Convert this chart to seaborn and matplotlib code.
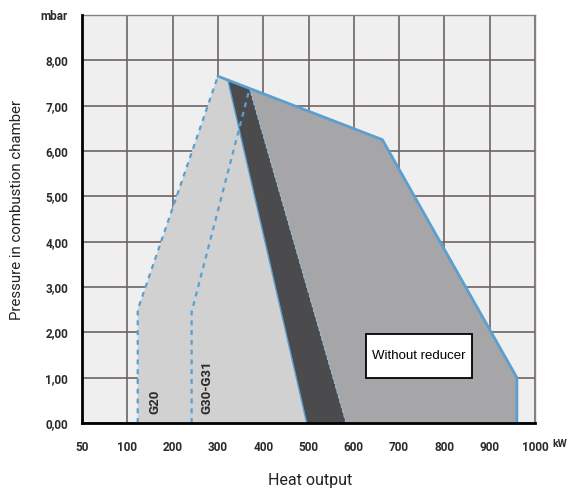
import numpy as np
import matplotlib
matplotlib.use("Agg")
import matplotlib.pyplot as plt
from matplotlib import font_manager
from matplotlib.patches import Rectangle
import seaborn as sns

# ---- data (kW, mbar) ----
x_ticks = [50, 100, 200, 300, 400, 500, 600, 700, 800, 900, 1000]
x_tick_labels = ["50", "100", "200", "300", "400", "500", "600", "700", "800", "900", "1000"]
y_ticks = [0, 1, 2, 3, 4, 5, 6, 7, 8, 9]
y_tick_labels = ["0,00", "1,00", "2,00", "3,00", "4,00", "5,00", "6,00", "7,00", "8,00", "mbar"]

# light region (G20 start to left edge of transition band)
light_kw = [123, 123, 300, 322, 496]
light_mbar = [0, 2.5, 7.65, 7.56, 0]
# dark transition band
dark_kw = [322, 370, 583, 496]
dark_mbar = [7.56, 7.38, 0, 0]
# "Without reducer" region
wr_kw = [370, 663, 960, 960, 583]
wr_mbar = [7.38, 6.25, 1.0, 0, 0]
# outer envelope
env_kw = [300, 663, 960, 960]
env_mbar = [7.65, 6.25, 1.0, 0]
# gas start curves
g20_kw = [123, 123, 300]
g20_mbar = [0, 2.5, 7.65]
g30_kw = [242, 242, 370]
g30_mbar = [0, 2.45, 7.38]


def pick(*names):
    have = {f.name for f in font_manager.fontManager.ttflist}
    for n in names:
        if n in have:
            return n
    return "DejaVu Sans"


sns.set_theme(style="white")
label_font = pick("Roboto", "Liberation Sans")
tick_font = pick("Roboto", "Liberation Sans")
sans = pick("Liberation Sans", "DejaVu Sans")
plt.rcParams["font.family"] = [sans, "DejaVu Sans"]


def fwd(v):
    v = np.asarray(v, dtype=float)
    return np.where(v <= 100, (v - 50) / 50.0, 1 + (v - 100) / 100.0)


def inv(p):
    p = np.asarray(p, dtype=float)
    return np.where(p <= 1, 50 + p * 50.0, 100 + (p - 1) * 100.0)


fig = plt.figure(figsize=(5.71, 4.91), dpi=100)
ax = fig.add_axes([82 / 571, 68 / 491, (535 - 82) / 571, (423 - 15) / 491])
ax.set_xscale("function", functions=(fwd, inv))
ax.set_xlim(50, 1000)
ax.set_ylim(0, 9)
ax.set_facecolor("#efefef")

grid_c = "#6e6464"
ax.set_xticks(x_ticks)
ax.set_yticks(y_ticks)
ax.grid(True, color=grid_c, linewidth=1.2, zorder=0)
ax.set_axisbelow(True)

ax.fill(light_kw, light_mbar, color="#d1d1d1", zorder=2, lw=0)
ax.fill(dark_kw, dark_mbar, color="#4b4b4d", zorder=2, lw=0)
ax.fill(wr_kw, wr_mbar, color="#a6a6a8", zorder=2, lw=0)

blue = "#5a9fcf"
# edges of the transition band
ax.plot([light_kw[3], light_kw[4]], [light_mbar[3], light_mbar[4]], color=blue, lw=1.0, zorder=3)
ax.plot([dark_kw[1], dark_kw[2]], [dark_mbar[1], dark_mbar[2]], color="#8cc0e0", lw=0.9,
        ls=(0, (2, 2)), zorder=3)
sns.lineplot(x=env_kw, y=env_mbar, sort=False, estimator=None, color=blue, lw=2.0, ax=ax, zorder=4)
sns.lineplot(x=g20_kw, y=g20_mbar, sort=False, estimator=None, color=blue, lw=1.6,
             ax=ax, zorder=4).lines[-1].set_linestyle((0, (2.2, 2.2)))
sns.lineplot(x=g30_kw, y=g30_mbar, sort=False, estimator=None, color=blue, lw=1.6,
             ax=ax, zorder=4).lines[-1].set_linestyle((0, (2.2, 2.2)))

for side in ("top", "right"):
    ax.spines[side].set_color("#8a8080")
    ax.spines[side].set_linewidth(1.0)
for side in ("left", "bottom"):
    ax.spines[side].set_color("black")
    ax.spines[side].set_linewidth(2.0)
    ax.spines[side].set_zorder(5)

ax.set_xticklabels(x_tick_labels)
ax.set_yticklabels(y_tick_labels)
ax.tick_params(axis="both", length=0, labelsize=8.5, labelcolor="#2a2a2a")
ax.tick_params(axis="x", pad=13)
ax.tick_params(axis="y", pad=10)
for lab in ax.get_xticklabels() + ax.get_yticklabels():
    lab.set_family([tick_font, "DejaVu Sans"])
    lab.set_fontweight("bold")
ax.set_xlabel("")
ax.set_ylabel("")

ax.text(160, 0.46, "G20", rotation=90, ha="center", va="center", fontsize=9.5,
        fontweight="bold", family=[tick_font, "DejaVu Sans"], color="#2a2a2a", zorder=6)
ax.text(276, 0.8, "G30-G31", rotation=90, ha="center", va="center", fontsize=9.5,
        fontweight="bold", family=[tick_font, "DejaVu Sans"], color="#2a2a2a", zorder=6)

# label box for the region without pressure reducer
ax.add_patch(Rectangle((628, 0.99), 862 - 628, 1.97 - 0.99, facecolor="white",
                       edgecolor="black", linewidth=1.3, zorder=7))
ax.text(744, 1.48, "Without reducer", ha="center", va="center", fontsize=9.5, color="black",
        family=[sans, "DejaVu Sans"], zorder=8)

fig.text(552 / 571, 1 - 444 / 491, "kW", ha="left", va="center", fontsize=7.5,
         fontweight="bold", family=[tick_font, "DejaVu Sans"], color="#2a2a2a")
fig.text(310 / 571, 1 - 480 / 491, "Heat output", ha="center", va="center", fontsize=11.5,
         family=[label_font, "DejaVu Sans"], color="#222222")
fig.text(17 / 571, 1 - 210 / 491, "Pressure in combustion chamber", rotation=90, ha="center",
         va="center", fontsize=10.8, family=[label_font, "DejaVu Sans"], color="#222222")

fig.savefig("out.png", dpi=100, facecolor="white")
